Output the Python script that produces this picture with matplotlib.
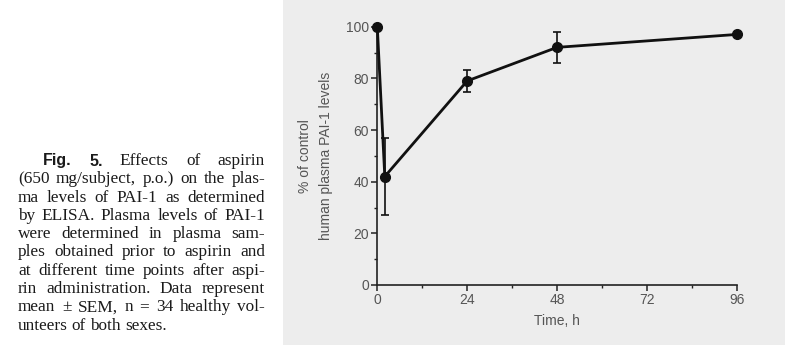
import matplotlib
matplotlib.use('Agg')
import matplotlib.pyplot as plt
from matplotlib.patches import Rectangle
from matplotlib.ticker import MultipleLocator

# data
time_h = [0, 2, 24, 48, 96]
pai1_pct = [100, 42, 79, 92, 97]
pai1_sem = [0, 15, 4.2, 6, 0]

x_ticks = [0, 24, 48, 72, 96]
y_ticks = [0, 20, 40, 60, 80, 100]

caption_lines = [
    'Fig. 5. Effects of aspirin',
    '(650 mg/subject, p.o.) on the plas-',
    'ma levels of PAI-1 as determined',
    'by ELISA. Plasma levels of PAI-1',
    'were determined in plasma sam-',
    'ples obtained prior to aspirin and',
    'at different time points after aspi-',
    'rin administration. Data represent',
    'mean \u00b1 SEM, n = 34 healthy vol-',
    'unteers of both sexes.',
]

plt.rcParams['font.family'] = ['Liberation Sans', 'DejaVu Sans']

W, H = 785, 360
fig = plt.figure(figsize=(W / 100, H / 100), dpi=100)
fig.patch.set_facecolor('white')

# scanned page background behind the plot
fig.patches.append(Rectangle((283 / W, 15 / H), 1 - 283 / W, 1 - 15 / H,
                             transform=fig.transFigure, facecolor='#ededed',
                             edgecolor='none', zorder=-5))

ax = fig.add_axes([377.3 / W, 1 - 285 / H, (736.7 - 377.3) / W, (285 - 26.7) / H])
ax.set_facecolor('none')
ax.set_zorder(2)
ax.errorbar(time_h, pai1_pct, yerr=pai1_sem, color='#111111', lw=2.0,
            marker='o', ms=7, elinewidth=1.2, capsize=3, capthick=1.2,
            clip_on=False, zorder=3)

ax.set_xlim(0, 96)
ax.set_ylim(0, 100)
ax.set_xticks(x_ticks)
ax.set_yticks(y_ticks)
ax.xaxis.set_minor_locator(MultipleLocator(12))
ax.yaxis.set_minor_locator(MultipleLocator(10))
for s in ['top', 'right']:
    ax.spines[s].set_visible(False)
for s in ['left', 'bottom']:
    ax.spines[s].set_color('#222222')
    ax.spines[s].set_linewidth(1.2)
ax.tick_params(which='major', direction='out', length=4, width=1.1,
               color='#222222', labelsize=10, labelcolor='#555555', pad=2)
ax.tick_params(which='minor', direction='out', length=2.5, width=1.0,
               color='#222222')
ax.set_xlabel('Time, h', fontsize=10, color='#555555', labelpad=5)
ax.set_ylabel('% of control\nhuman plasma PAI-1 levels', fontsize=10,
              color='#555555', labelpad=9, linespacing=1.7)

# justified caption
renderer = fig.canvas.get_renderer()
serif = dict(family='Liberation Serif', fontsize=12.4, color='#1a1a1a')
bold = dict(family='Liberation Sans', fontweight='bold', fontsize=11.5,
            color='#1a1a1a')
left, right = 18, 265
y0, dy = 161, 18.3
for i, line in enumerate(caption_lines):
    words = line.split(' ')
    start = 43 if i == 0 else left
    y = 1 - (y0 + i * dy) / H
    objs = []
    for j, w in enumerate(words):
        style = bold if (i == 0 and j < 2) else serif
        t = fig.text(0, y, w, va='center', ha='left', **style)
        objs.append(t)
    widths = [t.get_window_extent(renderer).width for t in objs]
    if i == len(caption_lines) - 1:
        gap = 4
    else:
        gap = (right - start - sum(widths)) / (len(words) - 1)
    x = start
    for t, wd in zip(objs, widths):
        t.set_x(x / W)
        x += wd + gap

fig.savefig('out.png', dpi=100)
